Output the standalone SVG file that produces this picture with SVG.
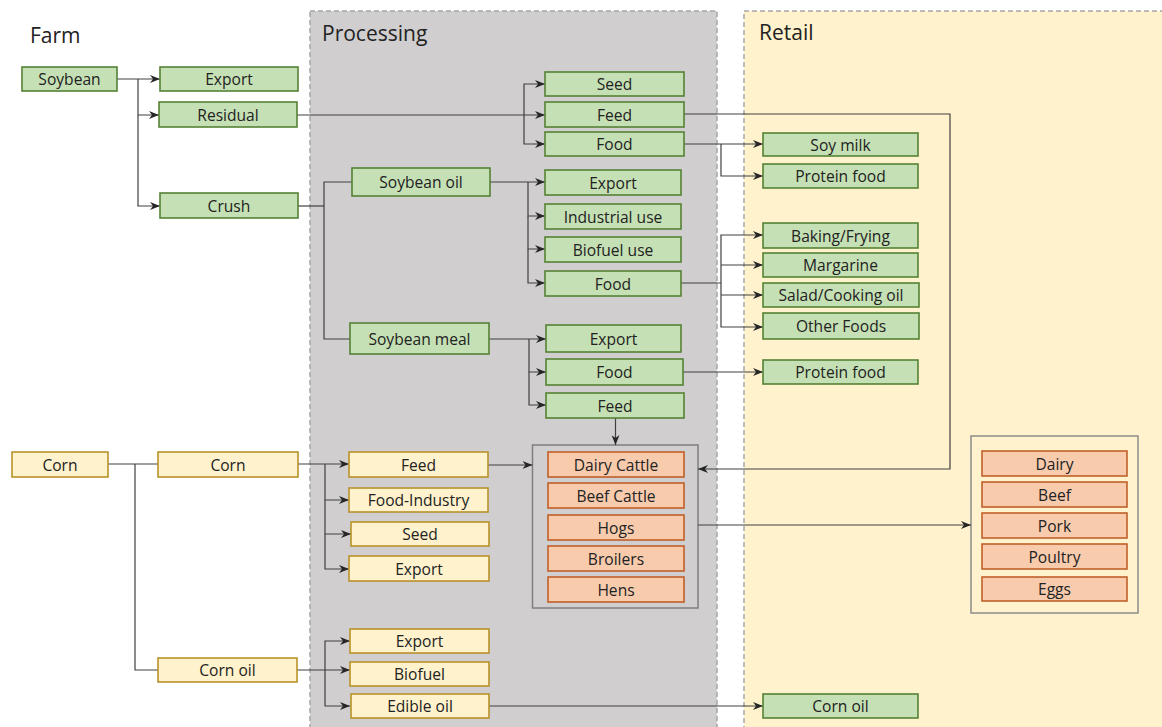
<svg xmlns="http://www.w3.org/2000/svg" width="1162" height="727" viewBox="0 0 1162 727">
<defs>
<style>
.t{font-family:"Open Sans","Liberation Sans",sans-serif;font-size:15.6px;fill:#222222;text-anchor:middle;dominant-baseline:central}
.h{font-family:"Open Sans","Liberation Sans",sans-serif;font-size:21px;fill:#222222}
.g{fill:#c5e0b4;stroke:#548235;stroke-width:1.6}
.y{fill:#fff2cc;stroke:#b8922a;stroke-width:1.6}
.o{fill:#f8cbad;stroke:#c0602a;stroke-width:1.6}
.c{fill:none;stroke:#404040;stroke-width:1.2}
.a{marker-end:url(#ar)}
</style>
<marker id="ar" viewBox="0 0 10 8" refX="10" refY="4" markerWidth="10" markerHeight="8" markerUnits="userSpaceOnUse" orient="auto">
<path d="M0,0 L10,4 L0,8 L3,4 Z" fill="#262626"/>
</marker>
</defs>
<rect width="1162" height="727" fill="#ffffff"/>
<g id="panels">
<rect x="310" y="11" width="407" height="740" fill="#d0cece" stroke="#a6a6a6" stroke-width="1.5" stroke-dasharray="5,3"/>
<rect x="744" y="11" width="440" height="740" fill="#fff2cc" stroke="#a6a6a6" stroke-width="1.5" stroke-dasharray="5,3"/>
<text class="h" x="30" y="43">Farm</text>
<text class="h" x="322" y="41">Processing</text>
<text class="h" x="759" y="40">Retail</text>
</g>
<g id="groups">
<rect x="532.5" y="445" width="165.5" height="163" fill="none" stroke="#7f7f7f" stroke-width="1.5"/>
<rect x="971" y="436" width="167" height="177" fill="#fff2cc" stroke="#8c8c8c" stroke-width="1.5"/>
</g>
<g id="connectors">
<path class="c a" d="M117,79 H160"/>
<path class="c a" d="M138,79 V115 H159"/>
<path class="c a" d="M138,115 V206 H160"/>
<path class="c a" d="M297,115 H545"/>
<path class="c a" d="M524,115 V84 H545"/>
<path class="c a" d="M524,115 V144 H545"/>
<path class="c" d="M298,206 H324"/>
<path class="c" d="M352,182 H324 V339 H350"/>
<path class="c a" d="M490,182 H545"/>
<path class="c a" d="M528,182 V216 H545"/>
<path class="c a" d="M528,216 V249 H545"/>
<path class="c a" d="M528,249 V283 H545"/>
<path class="c a" d="M489,339 H546"/>
<path class="c a" d="M529,339 V372 H546"/>
<path class="c a" d="M529,372 V405 H546"/>
<path class="c a" d="M684,144 H763"/>
<path class="c a" d="M721,144 V176 H763"/>
<path class="c" d="M681,283 H721"/>
<path class="c a" d="M721,283 V235 H763"/>
<path class="c a" d="M721,265 H763"/>
<path class="c a" d="M721,295 H763"/>
<path class="c a" d="M721,283 V327 H763"/>
<path class="c a" d="M683,372 H763"/>
<path class="c a" d="M684,114 H950 V469 H698"/>
<path class="c a" d="M615.5,418 V445"/>
<path class="c" d="M108,464 H158"/>
<path class="c" d="M135,464 V670 H158"/>
<path class="c a" d="M298,464 H349"/>
<path class="c a" d="M325,464 V500 H349"/>
<path class="c a" d="M325,500 V534 H351"/>
<path class="c a" d="M325,534 V569 H349"/>
<path class="c a" d="M488,465 H532.5"/>
<path class="c a" d="M297,670 H350"/>
<path class="c a" d="M325,670 V641 H350"/>
<path class="c a" d="M325,670 V706 H350"/>
<path class="c a" d="M489,706 H763"/>
<path class="c a" d="M698,525 H971"/>
</g>
<g id="n-soybean"><rect class="g" x="22" y="67" width="95" height="24"/><text class="t" x="69.5" y="79">Soybean</text></g>
<g id="n-export1"><rect class="g" x="160" y="67" width="138" height="24"/><text class="t" x="229" y="79">Export</text></g>
<g id="n-residual"><rect class="g" x="159" y="102" width="138" height="25"/><text class="t" x="228" y="114.5">Residual</text></g>
<g id="n-crush"><rect class="g" x="160" y="193" width="138" height="25"/><text class="t" x="229" y="205.5">Crush</text></g>
<g id="n-seed1"><rect class="g" x="545" y="72" width="139" height="24"/><text class="t" x="614.5" y="84">Seed</text></g>
<g id="n-feed1"><rect class="g" x="545" y="102" width="139" height="25"/><text class="t" x="614.5" y="114.5">Feed</text></g>
<g id="n-food1"><rect class="g" x="545" y="132" width="139" height="24"/><text class="t" x="614.5" y="144">Food</text></g>
<g id="n-soyoil"><rect class="g" x="352" y="168" width="138" height="28"/><text class="t" x="421" y="182">Soybean oil</text></g>
<g id="n-export2"><rect class="g" x="545" y="170" width="136" height="25"/><text class="t" x="613" y="182.5">Export</text></g>
<g id="n-industrial"><rect class="g" x="545" y="204" width="136" height="25"/><text class="t" x="613" y="216.5">Industrial use</text></g>
<g id="n-biofueluse"><rect class="g" x="545" y="237" width="136" height="25"/><text class="t" x="613" y="249.5">Biofuel use</text></g>
<g id="n-food2"><rect class="g" x="545" y="271" width="136" height="25"/><text class="t" x="613" y="283.5">Food</text></g>
<g id="n-soymeal"><rect class="g" x="350" y="323" width="139" height="31"/><text class="t" x="419.5" y="338.5">Soybean meal</text></g>
<g id="n-export3"><rect class="g" x="546" y="325" width="135" height="27"/><text class="t" x="613.5" y="338.5">Export</text></g>
<g id="n-food3"><rect class="g" x="546" y="359" width="137" height="26"/><text class="t" x="614.5" y="372">Food</text></g>
<g id="n-feed3"><rect class="g" x="546" y="393" width="138" height="25"/><text class="t" x="615" y="405.5">Feed</text></g>
<g id="n-soymilk"><rect class="g" x="763" y="133" width="155" height="23"/><text class="t" x="840.5" y="144.5">Soy milk</text></g>
<g id="n-protein1"><rect class="g" x="763" y="164" width="155" height="24"/><text class="t" x="840.5" y="176">Protein food</text></g>
<g id="n-baking"><rect class="g" x="763" y="223" width="155" height="25"/><text class="t" x="840.5" y="235.5">Baking/Frying</text></g>
<g id="n-margarine"><rect class="g" x="763" y="253" width="155" height="24"/><text class="t" x="840.5" y="265">Margarine</text></g>
<g id="n-salad"><rect class="g" x="763" y="283" width="156" height="24"/><text class="t" x="841" y="295">Salad/Cooking oil</text></g>
<g id="n-other"><rect class="g" x="763" y="313" width="156" height="26"/><text class="t" x="841" y="326">Other Foods</text></g>
<g id="n-protein2"><rect class="g" x="763" y="360" width="155" height="24"/><text class="t" x="840.5" y="372">Protein food</text></g>
<g id="n-cornoil-retail"><rect class="g" x="763" y="694" width="155" height="24"/><text class="t" x="840.5" y="706">Corn oil</text></g>
<g id="n-corn-farm"><rect class="y" x="12" y="452" width="96" height="25"/><text class="t" x="60" y="464.5">Corn</text></g>
<g id="n-corn"><rect class="y" x="158" y="452" width="140" height="25"/><text class="t" x="228" y="464.5">Corn</text></g>
<g id="n-cornoil"><rect class="y" x="158" y="658" width="139" height="24"/><text class="t" x="227.5" y="670">Corn oil</text></g>
<g id="n-feed-corn"><rect class="y" x="349" y="452" width="139" height="25"/><text class="t" x="418.5" y="464.5">Feed</text></g>
<g id="n-foodind"><rect class="y" x="349" y="488" width="139" height="24"/><text class="t" x="418.5" y="500">Food-Industry</text></g>
<g id="n-seed-corn"><rect class="y" x="351" y="522" width="138" height="24"/><text class="t" x="420" y="534">Seed</text></g>
<g id="n-export-corn"><rect class="y" x="349" y="556" width="140" height="25"/><text class="t" x="419" y="568.5">Export</text></g>
<g id="n-export-oil"><rect class="y" x="350" y="629" width="139" height="24"/><text class="t" x="419.5" y="641">Export</text></g>
<g id="n-biofuel"><rect class="y" x="350" y="662" width="139" height="24"/><text class="t" x="419.5" y="674">Biofuel</text></g>
<g id="n-edible"><rect class="y" x="351" y="694" width="138" height="24"/><text class="t" x="420" y="706">Edible oil</text></g>
<g id="n-dairycattle"><rect class="o" x="548" y="452" width="136" height="25"/><text class="t" x="616" y="464.5">Dairy Cattle</text></g>
<g id="n-beefcattle"><rect class="o" x="548" y="483" width="136" height="25"/><text class="t" x="616" y="495.5">Beef Cattle</text></g>
<g id="n-hogs"><rect class="o" x="548" y="515" width="136" height="25"/><text class="t" x="616" y="527.5">Hogs</text></g>
<g id="n-broilers"><rect class="o" x="548" y="546" width="136" height="25"/><text class="t" x="616" y="558.5">Broilers</text></g>
<g id="n-hens"><rect class="o" x="548" y="577" width="136" height="25"/><text class="t" x="616" y="589.5">Hens</text></g>
<g id="n-dairy"><rect class="o" x="982" y="451" width="145" height="25"/><text class="t" x="1054.5" y="463.5">Dairy</text></g>
<g id="n-beef"><rect class="o" x="982" y="482" width="145" height="25"/><text class="t" x="1054.5" y="494.5">Beef</text></g>
<g id="n-pork"><rect class="o" x="982" y="513" width="145" height="25"/><text class="t" x="1054.5" y="525.5">Pork</text></g>
<g id="n-poultry"><rect class="o" x="982" y="544" width="145" height="25"/><text class="t" x="1054.5" y="556.5">Poultry</text></g>
<g id="n-eggs"><rect class="o" x="982" y="577" width="145" height="24"/><text class="t" x="1054.5" y="589">Eggs</text></g>
</svg>
